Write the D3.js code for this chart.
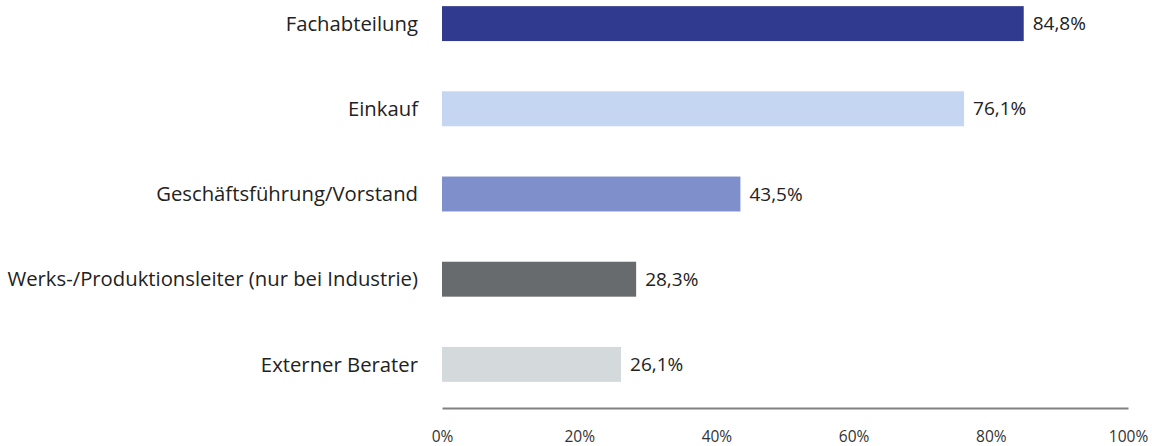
<!DOCTYPE html>
<html>
<head>
  <meta charset="UTF-8">
  <script src="https://d3js.org/d3.v7.min.js"></script>
  <style>
    body { margin: 0; background: #fff; }
    text { font-family: "Open Sans", sans-serif; }
  </style>
</head>
<body>
<div id="chart"></div>
<script>
  const categories = ["Fachabteilung", "Einkauf", "Geschäftsführung/Vorstand", "Werks-/Produktionsleiter (nur bei Industrie)", "Externer Berater"];
  const values = [84.8, 76.1, 43.5, 28.3, 26.1];
  const colors = ["#303a8e", "#c5d6f2", "#7f8fcc", "#676b6d", "#d4d9dc"];
  const ticks = [0, 20, 40, 60, 80, 100];

  const W = 1152, H = 446;

  const svg = d3.select("#chart").append("svg")
    .attr("width", W)
    .attr("height", H);

  const x = d3.scaleLinear()
    .domain([0, 100])
    .range([442, 1128]);

  const y = d3.scaleBand()
    .domain(categories)
    .range([-19, 407])
    .paddingInner(0.59)
    .paddingOuter(0.295);

  const fmt = v => v.toFixed(1).replace(".", ",") + "%";

  svg.selectAll(".bar")
    .data(categories)
    .enter()
    .append("rect")
    .attr("class", "bar")
    .attr("x", x(0))
    .attr("y", d => y(d))
    .attr("width", (d, i) => x(values[i]) - x(0))
    .attr("height", y.bandwidth())
    .attr("fill", (d, i) => colors[i]);

  // category labels left of the bars
  svg.selectAll(".cat")
    .data(categories)
    .enter()
    .append("text")
    .attr("x", x(0) - 24)
    .attr("y", d => y(d) + y.bandwidth() / 2)
    .attr("dy", "0.35em")
    .attr("text-anchor", "end")
    .style("font-size", "20.3px")
    .style("fill", "#222")
    .text(d => d);

  svg.selectAll(".val")
    .data(categories)
    .enter()
    .append("text")
    .attr("x", (d, i) => x(values[i]) + 9)
    .attr("y", d => y(d) + y.bandwidth() / 2)
    .attr("dy", "0.35em")
    .style("font-size", "19px")
    .style("fill", "#222")
    .text((d, i) => fmt(values[i]));

  const axis = svg.append("g")
    .attr("transform", "translate(0,408)")
    .call(d3.axisBottom(x).tickValues(ticks).tickSize(0).tickPadding(23).tickFormat(d => d + "%"));
  axis.select(".domain").attr("stroke", "#808080").attr("stroke-width", 2);
  axis.selectAll("text")
    .style("font-family", "'Open Sans', sans-serif")
    .style("font-size", "15.5px")
    .style("fill", "#333");
</script>
</body>
</html>
